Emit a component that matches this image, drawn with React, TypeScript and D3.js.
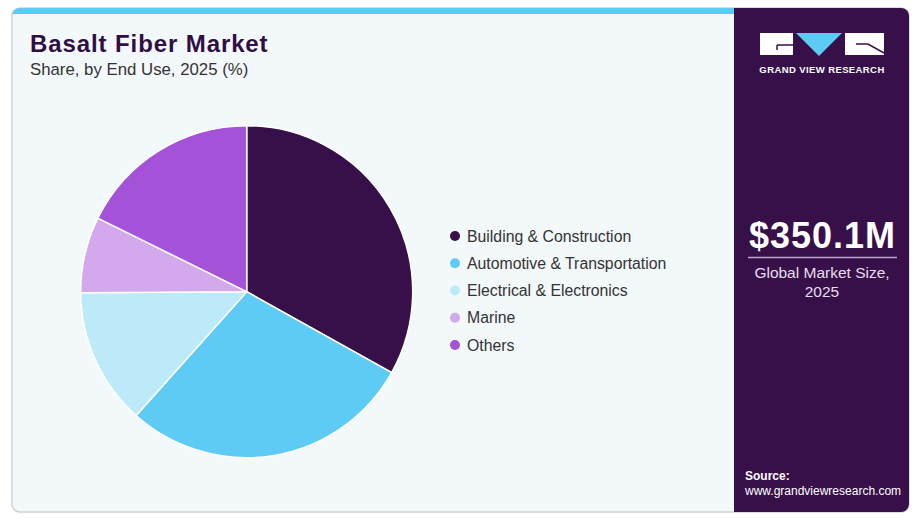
import { useMemo } from 'react';
import * as d3 from 'd3';

const categories = [
  'Building & Construction',
  'Automotive & Transportation',
  'Electrical & Electronics',
  'Marine',
  'Others',
];
const shares = [33.1, 28.5, 13.3, 7.4, 17.7];
const colors = ['#37104a', '#5ecbf5', '#bdeaf9', '#d4a8ec', '#a452d8'];

const W = 919;
const H = 519;
const FONT = '"Liberation Sans", Arial, sans-serif';

export default function App() {
  const arcs = useMemo(() => {
    const pie = d3
      .pie<number>()
      .sort(null)
      .value((d) => d);
    const arc = d3.arc<d3.PieArcDatum<number>>().innerRadius(0).outerRadius(166);
    return pie(shares).map((a, i) => ({ d: arc(a) ?? '', color: colors[i] }));
  }, []);

  const legendY = d3
    .scalePoint<string>()
    .domain(categories)
    .range([236, 345]);

  return (
    <svg
      width={W}
      height={H}
      viewBox={`0 0 ${W} ${H}`}
      style={{ position: 'absolute', left: 0, top: 0, fontFamily: FONT }}
    >
      <rect width={W} height={H} fill="#ffffff" />
      {/* card */}
      <rect x={12} y={8} width={897} height={504} rx={8} fill="#f3f8fb" stroke="#cfd3d6" strokeWidth={1.5} />
      <clipPath id="card">
        <rect x={12} y={8} width={897} height={504} rx={8} />
      </clipPath>
      <g clipPath="url(#card)">
        <rect x={12} y={8} width={722} height={6} fill="#5ecbf5" />
        <rect x={734} y={8} width={176} height={505} fill="#37104a" />
      </g>

      {/* title */}
      <text x={30} y={52} fontSize={24} fontWeight={700} fill="#2f0f43" letterSpacing={0.9}>
        Basalt Fiber Market
      </text>
      <text x={30} y={75} fontSize={16.8} fill="#333333">
        Share, by End Use, 2025 (%)
      </text>

      {/* pie */}
      <g transform="translate(246.7,291.7)">
        {arcs.map((a, i) => (
          <path key={categories[i]} d={a.d} fill={a.color} stroke="#ffffff" strokeWidth={1.5} />
        ))}
      </g>

      {/* legend */}
      {categories.map((c, i) => (
        <g key={c} transform={`translate(455,${legendY(c)})`}>
          <circle r={5} fill={colors[i]} />
          <text x={12} y={5.5} fontSize={15.8} fill="#333333">
            {c}
          </text>
        </g>
      ))}

      {/* logo */}
      <g>
        <path d="M760,33 H793 V55 H760 Z" fill="#ffffff" />
        <path d="M777,45 H793 M777,45 V50" stroke="#37104a" strokeWidth={1.5} fill="none" />
        <path d="M796,33 H842 L819,56 Z" fill="#5ecbf5" />
        <path d="M845,33 H884 V55 H845 Z" fill="#ffffff" />
        <path d="M856,44 H868 L884,53" stroke="#37104a" strokeWidth={1.5} fill="none" />
        <text x={822} y={73} fontSize={9.5} fontWeight={700} fill="#ffffff" textAnchor="middle" letterSpacing={0.4}>
          GRAND VIEW RESEARCH
        </text>
      </g>

      {/* market size */}
      <text x={822.5} y={248} fontSize={36} fontWeight={700} fill="#ffffff" textAnchor="middle" letterSpacing={1}>
        $350.1M
      </text>
      <line x1={748} x2={897} y1={257.5} y2={257.5} stroke="#b9a9c6" strokeWidth={1.5} />
      <text x={822} y={277.5} fontSize={15.5} fill="#e6dfec" textAnchor="middle">
        Global Market Size,
      </text>
      <text x={822} y={297} fontSize={15.5} fill="#e6dfec" textAnchor="middle">
        2025
      </text>

      {/* source */}
      <text x={745} y={480} fontSize={12} fontWeight={700} fill="#ffffff">
        Source:
      </text>
      <text x={745} y={495} fontSize={12} fill="#ffffff">
        www.grandviewresearch.com
      </text>
    </svg>
  );
}
